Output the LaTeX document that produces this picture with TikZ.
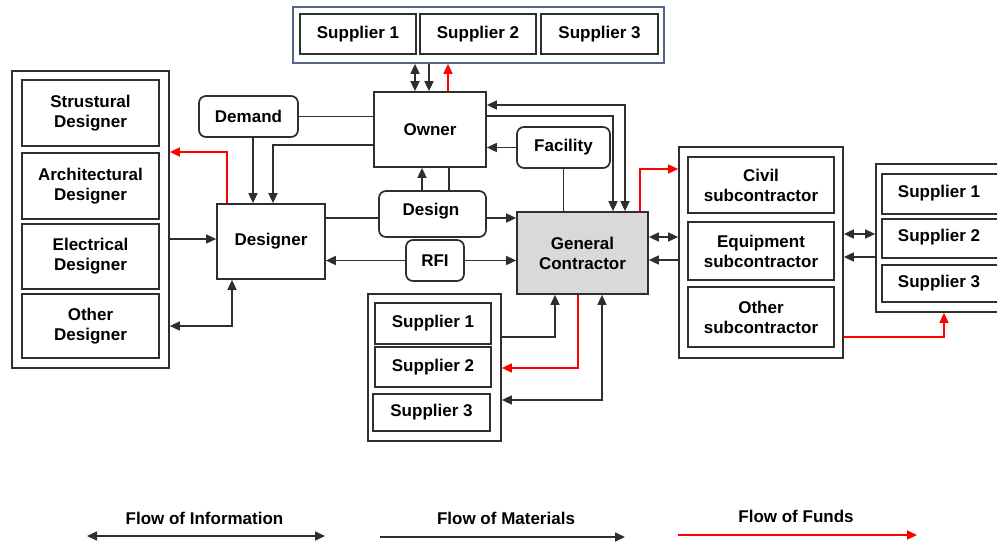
\documentclass[tikz,border=0pt]{standalone}
\usepackage{fontspec}
\setmainfont{Liberation Sans}
\usetikzlibrary{arrows.meta}
\definecolor{edge}{HTML}{2E2E2E}
\definecolor{topedge}{HTML}{55658A}
\definecolor{gcfill}{HTML}{D9D9D9}
\definecolor{fund}{HTML}{FF0000}
\tikzset{
  box/.style={draw=edge, line width=1.7pt, inner sep=0pt, align=center,
    font=\bfseries\fontsize{17}{20}\selectfont},
  rbox/.style={box, rounded corners=7pt},
  frame/.style={draw=edge, line width=1.7pt, inner sep=0pt},
  ln/.style={draw=edge, line width=1.6pt},
  red/.style={draw=fund, line width=1.6pt},
  legtext/.style={font=\bfseries\fontsize{17}{20}\selectfont, inner sep=0pt},
  >={Triangle[length=10pt,width=9pt]}
}
\begin{document}
\begin{tikzpicture}[x=1pt,y=-1pt]
\useasboundingbox (0,0) rectangle (997,542);
% ---- top supplier container
\node[frame, draw=topedge, minimum width=371pt, minimum height=56pt] (topc) at (478.5,35) {};
\node[box, minimum width=116pt, minimum height=40pt] (ts1) at (358,34) {Supplier 1};
\node[box, minimum width=116pt, minimum height=40pt] (ts2) at (478,34) {Supplier 2};
\node[box, minimum width=117pt, minimum height=40pt] (ts3) at (599.5,34) {Supplier 3};
% ---- owner, demand, designer
\node[box, minimum width=112pt, minimum height=75pt] (owner) at (430,129.5) {Owner};
\node[rbox, minimum width=99pt, minimum height=41pt] (demand) at (248.5,116.5) {Demand};
\node[box, minimum width=108pt, minimum height=75pt] (designer) at (271,241.5) {Designer};
% ---- left designers
\node[frame, minimum width=157pt, minimum height=297pt] (leftc) at (90.5,219.5) {};
\node[box, minimum width=137pt, minimum height=66pt] (sd) at (90.5,113) {Strustural\\Designer};
\node[box, minimum width=137pt, minimum height=66pt] (ad) at (90.5,186) {Architectural\\Designer};
\node[box, minimum width=137pt, minimum height=65pt] (ed) at (90.5,256.5) {Electrical\\Designer};
\node[box, minimum width=137pt, minimum height=64pt] (od) at (90.5,326) {Other\\Designer};
% ---- design, RFI, facility, GC
\node[rbox, minimum width=107pt, minimum height=46pt] (design) at (432.5,214) {};
\node[legtext] (designtxt) at (431,211) {Design};
\node[rbox, minimum width=58pt, minimum height=41pt] (rfi) at (435,260.5) {RFI};
\node[rbox, minimum width=93pt, minimum height=41pt] (facility) at (563.5,147.5) {Facility};
\node[box, fill=gcfill, minimum width=131pt, minimum height=82pt] (gc) at (582.5,253) {General\\Contractor};
% ---- subcontractors
\node[frame, minimum width=164pt, minimum height=211pt] (subc) at (761,252.5) {};
\node[box, minimum width=146pt, minimum height=56pt] (civil) at (761,185) {Civil\\subcontractor};
\node[box, minimum width=146pt, minimum height=58pt] (equip) at (761,251) {Equipment\\subcontractor};
\node[box, minimum width=146pt, minimum height=60pt] (osub) at (761,317) {Other\\subcontractor};
% ---- right suppliers
\node[frame, minimum width=134pt, minimum height=148pt] (rsc) at (943,238) {};
\node[box, minimum width=123pt, minimum height=40pt] (rs1) at (943.5,194) {};
\node[box, minimum width=123pt, minimum height=39pt] (rs2) at (943.5,238.5) {};
\node[box, minimum width=123pt, minimum height=37pt] (rs3) at (943.5,283.5) {};
\node[legtext] (rs1t) at (939,193) {Supplier 1};
\node[legtext] (rs2t) at (939,237) {Supplier 2};
\node[legtext] (rs3t) at (939,283) {Supplier 3};
% ---- bottom suppliers
\node[frame, minimum width=133pt, minimum height=147pt] (bsc) at (434.5,367.5) {};
\node[box, minimum width=116pt, minimum height=41pt] (bs1) at (433,323.5) {Supplier 1};
\node[box, minimum width=116pt, minimum height=40pt] (bs2) at (433,367) {Supplier 2};
\node[box, minimum width=117pt, minimum height=37pt] (bs3) at (431.5,412.5) {Supplier 3};

% ---- connectors
\draw[ln,<->] (topc.south -| 415,0) -- (owner.north -| 415,0);
\draw[ln,->] (topc.south -| 429,0) -- (owner.north -| 429,0);
\draw[red,->] (owner.north -| 448,0) -- (topc.south -| 448,0);
\draw[ln] (demand.east) -- (owner.west |- demand.east);
\draw[ln,->] (demand.south -| 253,0) -- (designer.north -| 253,0);
\draw[ln,->] (owner.west |- 0,145) -| (designer.north -| 273,0);
\draw[red,->] (designer.north -| 227,0) |- (leftc.east |- 0,152);
\draw[ln,->] (leftc.east |- 0,239) -- (designer.west |- 0,239);
\draw[ln,<->] (designer.south -| 232,0) |- (leftc.east |- 0,326);
\draw[ln] (designer.east |- 0,218) -- (design.west |- 0,218);
\draw[ln,->] (design.east |- 0,218) -- (gc.west |- 0,218);
\draw[ln,->] (design.north -| 422,0) -- (owner.south -| 422,0);
\draw[ln] (owner.south -| 449,0) -- (design.north -| 449,0);
\draw[ln,->] (rfi.west) -- (designer.east |- rfi.west);
\draw[ln,->] (rfi.east) -- (gc.west |- rfi.east);
\draw[ln,->] (facility.west) -- (owner.east |- facility.west);
\draw[ln] (facility.south) -- (gc.north -| facility.south);
\draw[ln,<->] (owner.east |- 0,105) -| (gc.north -| 625,0);
\draw[ln,->] (owner.east |- 0,116) -| (gc.north -| 613,0);
\draw[red,->] (gc.north -| 640,0) |- (subc.west |- 0,169);
\draw[ln,<->] (gc.east |- 0,237) -- (subc.west |- 0,237);
\draw[ln,->] (subc.west |- 0,260) -- (gc.east |- 0,260);
\draw[ln,<->] (subc.east |- 0,234) -- (rsc.west |- 0,234);
\draw[ln,->] (rsc.west |- 0,257) -- (subc.east |- 0,257);
\draw[red,->] (subc.east |- 0,337) -| (rsc.south -| 944,0);
\draw[ln,->] (bsc.east |- 0,337) -| (gc.south -| 555,0);
\draw[red,->] (gc.south -| 578,0) |- (bsc.east |- 0,368);
\draw[ln,<->] (gc.south -| 602,0) |- (bsc.east |- 0,400);

% ---- legend
\node[legtext] (linfo) at (204.5,518) {Flow of Information};
\node[legtext] (lmat) at (506,518) {Flow of Materials};
\node[legtext] (lfund) at (796,516) {Flow of Funds};
\coordinate (ia) at (87,536);
\coordinate (ib) at (325,536);
\coordinate (ma) at (380,537);
\coordinate (mb) at (625,537);
\coordinate (fa) at (678,535);
\coordinate (fb) at (917,535);
\draw[ln,<->] (ia) -- (ib);
\draw[ln,->] (ma) -- (mb);
\draw[red,->] (fa) -- (fb);
\end{tikzpicture}
\end{document}
